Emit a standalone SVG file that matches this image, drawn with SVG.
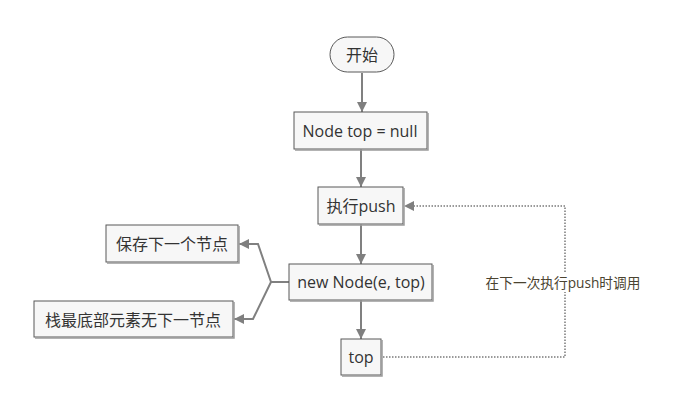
<svg xmlns="http://www.w3.org/2000/svg" width="681" height="412" viewBox="0 0 681 412">
<defs>
<marker id="ah" viewBox="0 0 10 10" refX="10" refY="5" markerWidth="10" markerHeight="10" markerUnits="userSpaceOnUse" orient="auto">
<path d="M0,0 L10,5 L0,10 z" fill="#7f7f7f"/>
</marker>
</defs>
<style>
.box{fill:#f7f7f7;stroke:#595959;stroke-width:1}
.sh{fill:none;stroke:#9a9a9a;stroke-width:1.5}
.t{font-family:"Open Sans","Noto Sans CJK SC",sans-serif;font-size:16px;fill:#333;text-anchor:middle;dominant-baseline:central}
.c{fill:none;stroke:#808080;stroke-width:2}
.d{fill:none;stroke:#7a7a7a;stroke-width:1.5;stroke-dasharray:1.5 1.5}
.lbl{font-family:"Open Sans","Noto Sans CJK SC",sans-serif;font-size:13.7px;fill:#4a4330;text-anchor:middle;dominant-baseline:central}
</style>
<rect width="681" height="412" fill="#fff"/>
<g id="connectors">
<path class="c" d="M362,73 V112" marker-end="url(#ah)"/>
<path class="c" d="M361,149 V187" marker-end="url(#ah)"/>
<path class="c" d="M361,224 V264" marker-end="url(#ah)"/>
<path class="c" d="M361,300 V339" marker-end="url(#ah)"/>
<path class="c" d="M289,282 H271 L258,244 H239" marker-end="url(#ah)"/>
<path class="c" d="M271,282 L253,319 H234" marker-end="url(#ah)"/>
<path class="d" d="M383,357 H565 V206 H410"/>
<path d="M404,206 L414,201 L414,211 z" fill="#7f7f7f"/>
<rect x="484" y="272" width="158" height="20" fill="#fff"/>
<text class="lbl" x="563" y="282">在下一次执行push时调用</text>
</g>
<g id="start">
<rect x="330" y="37" width="64" height="35" rx="17.5" fill="#f7f7f7" stroke="#595959"/>
<text class="t" x="362" y="55">开始</text>
</g>
<g id="n1">
<rect class="box" x="294" y="112" width="133" height="37"/>
<path class="sh" d="M428,113 V150 H295"/>
<text class="t" x="360" y="131">Node top = null</text>
</g>
<g id="n2">
<rect class="box" x="318" y="187" width="85" height="37"/>
<path class="sh" d="M404,188 V225 H319"/>
<text class="t" x="361" y="206">执行push</text>
</g>
<g id="n3">
<rect class="box" x="289" y="264" width="143" height="36"/>
<path class="sh" d="M433,265 V301 H290"/>
<text class="t" x="361" y="282">new Node(e, top)</text>
</g>
<g id="n4">
<rect class="box" x="341" y="339" width="40" height="36"/>
<path class="sh" d="M382,340 V376 H342"/>
<text class="t" x="361" y="357">top</text>
</g>
<g id="n5">
<rect class="box" x="106" y="225" width="132" height="37"/>
<path class="sh" d="M239,226 V263 H107"/>
<text class="t" x="172" y="244">保存下一个节点</text>
</g>
<g id="n6">
<rect class="box" x="34" y="301" width="199" height="36"/>
<path class="sh" d="M234,302 V338 H35"/>
<text class="t" x="133" y="320">栈最底部元素无下一节点</text>
</g>
</svg>
